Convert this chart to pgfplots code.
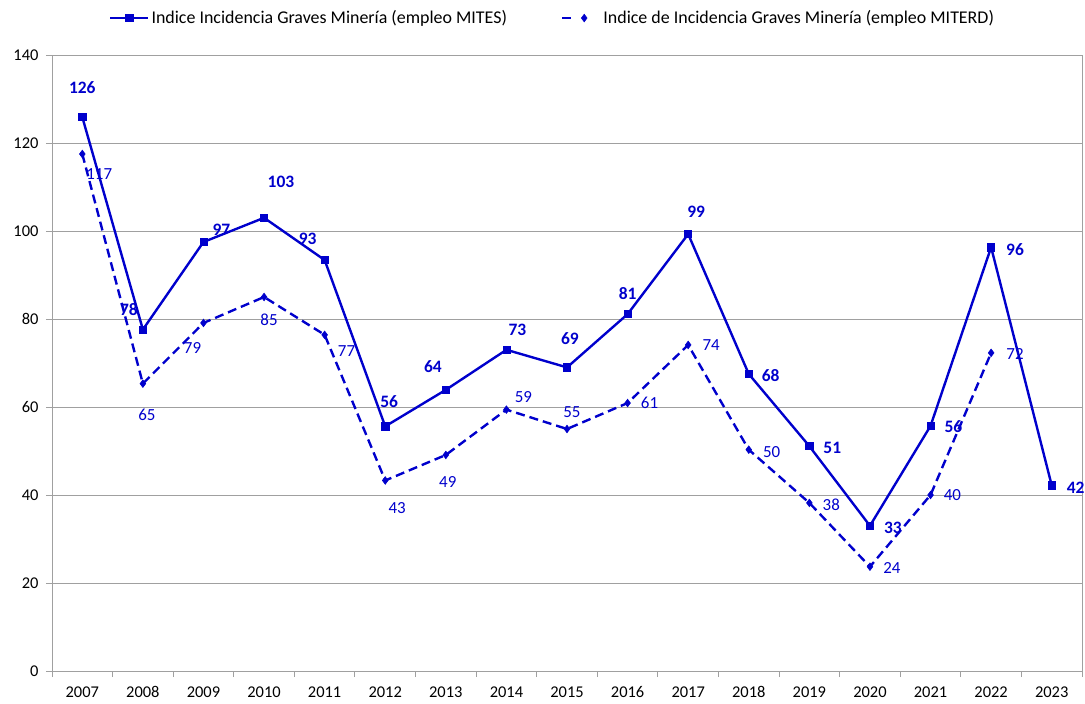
\documentclass[border=0pt]{standalone}
\usepackage{fontspec}
\setmainfont{Carlito}
\usepackage{pgfplots}
\usepackage{pgfplotstable}
\pgfplotsset{compat=1.18}
\definecolor{serieblue}{HTML}{0000CC}
\definecolor{gridgray}{HTML}{A0A0A0}

% x = year index (0 = 2007), y = value, lab = printed label, dx/dy = label offset (bp)
\pgfplotstableread{
x y lab dx dy
0 125.9 126 0 30
1 77.6 78 -14 20
2 97.5 97 18 12
3 103.0 103 17 36
4 93.4 93 -17 21
5 55.6 56 4 25
6 63.9 64 -13 23
7 73.0 73 11 20
8 69.0 69 3 29
9 81.1 81 0 21
10 99.3 99 8 22
11 67.5 68 22 -2
12 51.1 51 23 -2
13 33.0 33 23 -2
14 55.7 56 23 -1
15 96.3 96 24 -2
16 42.2 42 24 -2
}\mites

\pgfplotstableread{
x y lab dx dy
0 117.5 117 17 -20
1 65.3 65 4 -31
2 79.1 79 -11 -25
3 85.0 85 5 -23
4 76.4 77 22 -16
5 43.3 43 12 -28
6 49.1 49 2 -27
7 59.4 59 17 13
8 55.0 55 5 17
9 60.9 61 22 0
10 74.1 74 23 0
11 50.3 50 23 -2
12 38.2 38 22 -2
13 23.7 24 22 -1
14 40.0 40 22 0
15 72.3 72 24 -1
}\miterd

\begin{document}
\begin{tikzpicture}
\begin{axis}[
  scale only axis,
  width=1030bp, height=616bp,
  xmin=-0.5, xmax=16.5, ymin=0, ymax=140,
  ytick={0,20,...,140},
  xtick={-0.5,0.5,...,16.5}, xticklabels={},
  extra x ticks={0,1,...,16},
  extra x tick labels={2007,2008,2009,2010,2011,2012,2013,2014,2015,2016,2017,2018,2019,2020,2021,2022,2023},
  extra x tick style={major tick length=0pt, grid=none},
  tick align=outside, major tick length=6bp,
  xtick pos=bottom, ytick pos=left,
  ymajorgrids, grid style={gridgray, line width=0.9pt},
  axis line style={gridgray, line width=0.9pt},
  tick style={gridgray, line width=0.9pt},
  /pgf/number format/assume math mode=true,
  tick label style={font=\fontsize{16.5}{19}\selectfont, black},
  yticklabel style={xshift=-4bp},
  xticklabel style={yshift=-12bp},
  legend columns=2,
  legend style={draw=none, fill=none, at={(0.486,1.06)}, anchor=center,
    font=\fontsize{18}{21}\selectfont,
    /tikz/every even column/.append style={column sep=52bp}},
  point meta=explicit symbolic,
  visualization depends on={\thisrow{dx}\as\dx},
  visualization depends on={\thisrow{dy}\as\dy},
  nodes near coords,
  nodes near coords style={anchor=center, xshift=\dx pt, yshift=\dy pt, text=serieblue},
]
\addplot[serieblue, line width=2.4pt, mark=square*, mark size=3.6bp,
  mark options={line width=0.6pt},
  nodes near coords style={font=\fontsize{17.5}{20}\selectfont\bfseries},
  legend image code/.code={\draw[mark repeat=2,mark phase=2] plot coordinates {(0bp,0bp)(19bp,0bp)(38bp,0bp)};}]
  table[x=x, y=y, meta=lab] {\mites};
\addlegendentry{Indice Incidencia Graves Minería (empleo MITES)}
\addplot[serieblue, line width=2.4pt, dash pattern=on 9bp off 5bp,
  mark=diamond*, mark size=3.8bp, mark options={solid, line width=0.6pt},
  nodes near coords style={font=\fontsize{17}{20}\selectfont},
  legend image code/.code={
    \draw[dash pattern=on 9bp off 40bp] (0bp,0bp) -- (10bp,0bp);
    \draw plot coordinates {(22bp,0bp)};
    \path (38bp,0bp);}]
  table[x=x, y=y, meta=lab] {\miterd};
\addlegendentry{Indice de Incidencia Graves Minería (empleo MITERD)}
\end{axis}
\pgfresetboundingbox
\path (-52bp,-33bp) rectangle (1033bp,671bp);
\end{tikzpicture}
\end{document}
